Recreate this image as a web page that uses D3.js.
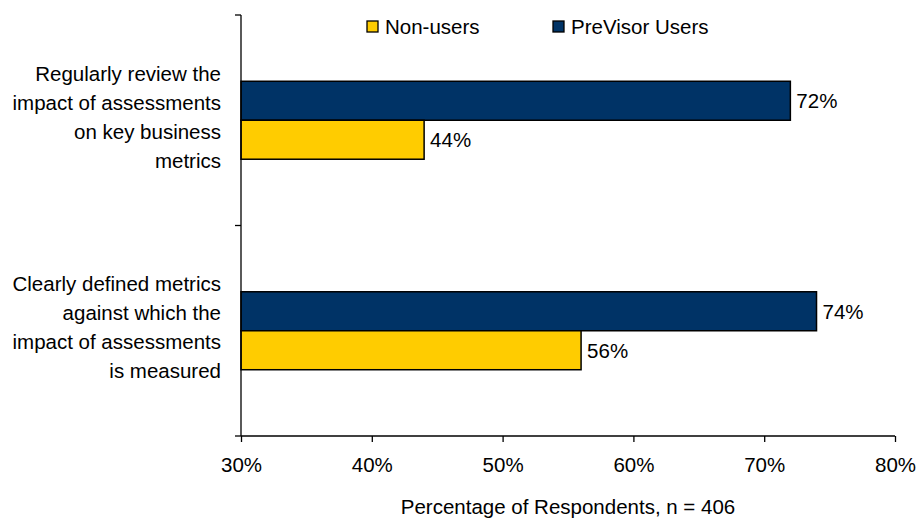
<!DOCTYPE html>
<html>
<head>
<meta charset="utf-8">
<script src="https://cdn.jsdelivr.net/npm/d3@7"></script>
<style>
  body { margin: 0; background: #fff; }
  text { font-family: "Liberation Sans", Arial, sans-serif; fill: #000; }
</style>
</head>
<body>
<div id="chartDiv"></div>
<script>
// data
var categories = [
  ["Regularly review the", "impact of assessments", "on key business", "metrics"],
  ["Clearly defined metrics", "against which the", "impact of assessments", "is measured"]
];
var seriesNames = ["PreVisor Users", "Non-users"];
var previsorUsers = [72, 74];
var nonUsers = [44, 56];
var xTicks = [30, 40, 50, 60, 70, 80];
var colors = {"PreVisor Users": "#003366", "Non-users": "#ffcc00"};

var data = categories.map(function(c, i) {
  return {cat: i, lines: c, values: [
    {name: "PreVisor Users", value: previsorUsers[i]},
    {name: "Non-users", value: nonUsers[i]}
  ]};
});

var fontSize = "20.5px";

var margin = {top: 15, right: 22, bottom: 83, left: 241},
    width = 917 - margin.left - margin.right,
    height = 519 - margin.top - margin.bottom;

var svg = d3.select("#chartDiv")
  .append("svg")
  .attr("width", 917)
  .attr("height", 519)
  .append("g")
  .attr("transform", "translate(" + margin.left + "," + margin.top + ")");

var x = d3.scaleLinear().domain([30, 80]).range([0, width]);
var y0 = d3.scaleBand().domain(d3.range(categories.length)).range([0, height]);
var y1 = d3.scaleBand().domain(seriesNames)
  .range([0, y0.bandwidth()]).paddingOuter(1.7);

// bars
var groups = svg.selectAll(".cat")
  .data(data)
  .enter().append("g")
  .attr("class", "cat")
  .attr("transform", function(d) { return "translate(0," + y0(d.cat) + ")"; });

groups.selectAll("rect")
  .data(function(d) { return d.values; })
  .enter().append("rect")
  .attr("x", x(30))
  .attr("y", function(d) { return y1(d.name); })
  .attr("width", function(d) { return x(d.value) - x(30); })
  .attr("height", y1.bandwidth())
  .attr("fill", function(d) { return colors[d.name]; })
  .attr("stroke", "#000")
  .attr("stroke-width", 1.5);

groups.selectAll(".val")
  .data(function(d) { return d.values; })
  .enter().append("text")
  .attr("class", "val")
  .attr("x", function(d) { return x(d.value) + 6; })
  .attr("y", function(d) { return y1(d.name) + y1.bandwidth() / 2; })
  .attr("dy", "0.36em")
  .style("font-size", fontSize)
  .text(function(d) { return d.value + "%"; });

// category labels
groups.append("text")
  .attr("text-anchor", "end")
  .attr("x", -20)
  .attr("y", y0.bandwidth() / 2 - 3)
  .style("font-size", fontSize)
  .selectAll("tspan")
  .data(function(d) { return d.lines; })
  .enter().append("tspan")
  .attr("x", -20)
  .attr("dy", function(d, i, n) { return i === 0 ? (-(n.length - 1) / 2 * 29 + 7) + "px" : "29px"; })
  .text(function(d) { return d; });

// x axis
var xAxis = svg.append("g")
  .attr("transform", "translate(0," + height + ")")
  .call(d3.axisBottom(x).tickValues(xTicks).tickSize(6).tickPadding(15)
    .tickFormat(function(d) { return d + "%"; }));
xAxis.selectAll("text").style("font-size", fontSize);
xAxis.selectAll("line, path").attr("stroke", "#000").attr("stroke-width", 1.3);
xAxis.select(".domain").attr("d", "M0,0H" + width);

// y axis: ticks at category boundaries
var yAxis = svg.append("g");
yAxis.append("line")
  .attr("x1", 0).attr("x2", 0).attr("y1", 0).attr("y2", height)
  .attr("stroke", "#000").attr("stroke-width", 1.3);
yAxis.selectAll(".yt")
  .data(d3.range(categories.length + 1))
  .enter().append("line")
  .attr("x1", -6).attr("x2", 0)
  .attr("y1", function(d) { return d < categories.length ? y0(d) : height; })
  .attr("y2", function(d) { return d < categories.length ? y0(d) : height; })
  .attr("stroke", "#000").attr("stroke-width", 1.3);

// axis title
svg.append("text")
  .attr("x", width / 2)
  .attr("y", height + 78)
  .attr("text-anchor", "middle")
  .style("font-size", fontSize)
  .text("Percentage of Respondents, n = 406");

// legend
var legendItems = ["Non-users", "PreVisor Users"];
var legendX = [126, 312];
var legend = svg.selectAll(".legend")
  .data(legendItems)
  .enter().append("g")
  .attr("transform", function(d, i) { return "translate(" + legendX[i] + ",6)"; });
legend.append("rect")
  .attr("width", 11).attr("height", 11)
  .attr("fill", function(d) { return colors[d]; })
  .attr("stroke", "#000").attr("stroke-width", 1.3);
legend.append("text")
  .attr("x", 18).attr("y", 5.5).attr("dy", "0.36em")
  .style("font-size", fontSize)
  .text(function(d) { return d; });
</script>
</body>
</html>
